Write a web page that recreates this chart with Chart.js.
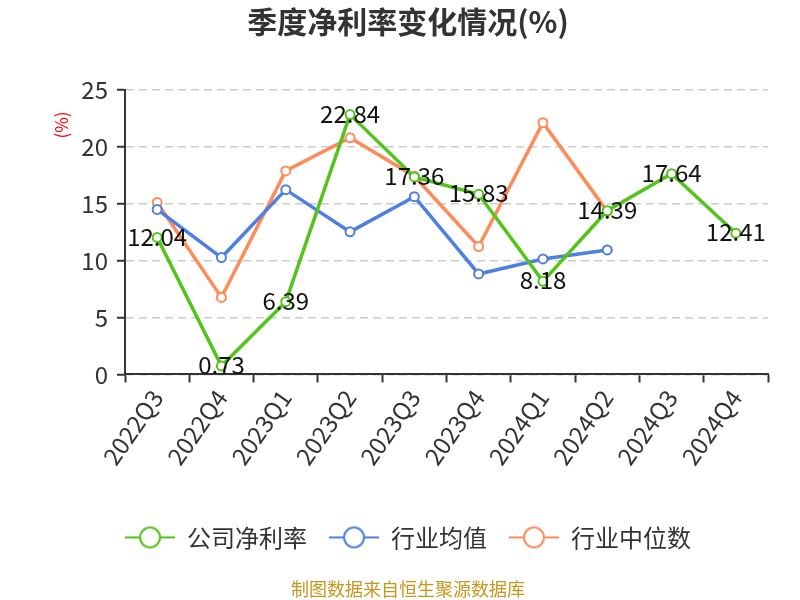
<!DOCTYPE html>
<html>
<head>
<meta charset="utf-8">
<script src="https://cdn.jsdelivr.net/npm/chart.js@4"></script>
<style>
  body { margin: 0; background: #fff; }
  #wrap { width: 800px; height: 600px; }
</style>
</head>
<body>
<div id="wrap"><canvas id="profitChart" width="800" height="600"></canvas></div>
<script>
const FONT = '"Noto Sans CJK SC", "Noto Sans", sans-serif';

// data
const quarters = ['2022Q3', '2022Q4', '2023Q1', '2023Q2', '2023Q3', '2023Q4', '2024Q1', '2024Q2', '2024Q3', '2024Q4'];
const companyRate = [12.04, 0.73, 6.39, 22.84, 17.36, 15.83, 8.18, 14.39, 17.64, 12.41];
const industryAvg = [14.5, 10.27, 16.24, 12.53, 15.62, 8.83, 10.15, 10.94, null, null];
const industryMedian = [15.12, 6.77, 17.89, 20.8, 17.42, 11.24, 22.13, 14.33, null, null];
const seriesNames = ['公司净利率', '行业均值', '行业中位数'];
const yTicks = [0, 5, 10, 15, 20, 25];

const colors = ['#52c41a', '#4e80e2', '#fe8c5a'];

// legend icon: short line with an open circle in the middle
function legendIcon(color) {
    const c = document.createElement('canvas');
    c.width = 50;
    c.height = 26;
    const g = c.getContext('2d');
    g.strokeStyle = color;
    g.lineWidth = 2;
    g.beginPath();
    g.moveTo(0, 13);
    g.lineTo(50, 13);
    g.stroke();
    g.beginPath();
    g.arc(25, 13, 10, 0, Math.PI * 2);
    g.fillStyle = '#fff';
    g.fill();
    g.stroke();
    return c;
}

// value labels on the company series
const valueLabels = {
    id: 'valueLabels',
    afterDatasetsDraw(chart) {
        const ctx = chart.ctx;
        const meta = chart.getDatasetMeta(0);
        ctx.save();
        ctx.font = '24px ' + FONT;
        ctx.fillStyle = '#111';
        ctx.textAlign = 'center';
        ctx.textBaseline = 'middle';
        meta.data.forEach((pt, i) => {
            const v = companyRate[i];
            if (v === null) return;
            ctx.fillText(v.toFixed(2), pt.x, pt.y - 1);
        });
        ctx.restore();
    }
};

// "(%)" unit text near top of y axis
const unitLabel = {
    id: 'unitLabel',
    afterDraw(chart) {
        const ctx = chart.ctx;
        const area = chart.chartArea;
        ctx.save();
        ctx.translate(62, area.top + 35);
        ctx.rotate(-Math.PI / 2);
        ctx.font = '17px ' + FONT;
        ctx.fillStyle = '#ff0000';
        ctx.textAlign = 'center';
        ctx.textBaseline = 'middle';
        ctx.fillText('(%)', 0, 0);
        ctx.restore();
    }
};

function makeDataset(label, data, color) {
    return {
        label: label,
        data: data,
        borderColor: color,
        backgroundColor: '#fff',
        borderWidth: 3.5,
        pointRadius: 4.5,
        pointBorderWidth: 2,
        pointBackgroundColor: '#fff',
        pointBorderColor: color,
        tension: 0,
        spanGaps: false
    };
}

const ctx = document.getElementById('profitChart').getContext('2d');
new Chart(ctx, {
    type: 'line',
    data: {
        labels: quarters,
        datasets: [
            makeDataset(seriesNames[0], companyRate, colors[0]),
            makeDataset(seriesNames[1], industryAvg, colors[1]),
            makeDataset(seriesNames[2], industryMedian, colors[2])
        ]
    },
    options: {
        responsive: false,
        animation: false,
        devicePixelRatio: 1,
        layout: {
            padding: { left: 48, right: 32, top: 0, bottom: 0 }
        },
        plugins: {
            title: {
                display: true,
                text: '季度净利率变化情况(%)',
                color: '#333',
                font: { family: FONT, size: 30, weight: 'bold' },
                padding: { top: 4, bottom: 50 }
            },
            subtitle: {
                display: true,
                position: 'bottom',
                text: '制图数据来自恒生聚源数据库',
                color: '#c8961e',
                font: { family: FONT, size: 18 },
                padding: { top: 19, bottom: 0 }
            },
            legend: {
                position: 'bottom',
                labels: {
                    usePointStyle: true,
                    pointStyleWidth: 50,
                    padding: 22,
                    color: '#333',
                    font: { family: FONT, size: 24 },
                    generateLabels(chart) {
                        return chart.data.datasets.map((ds, i) => ({
                            text: ds.label,
                            pointStyle: legendIcon(colors[i]),
                            fontColor: '#333',
                            strokeStyle: colors[i],
                            fillStyle: '#fff',
                            lineWidth: 0,
                            datasetIndex: i,
                            hidden: false
                        }));
                    }
                }
            },
            tooltip: { enabled: false }
        },
        scales: {
            x: {
                offset: true,
                grid: {
                    offset: true,
                    drawOnChartArea: false,
                    drawTicks: true,
                    tickLength: 8,
                    tickColor: '#333',
                    tickWidth: 2
                },
                border: { color: '#333', width: 2 },
                ticks: {
                    color: '#333',
                    font: { family: FONT, size: 24 },
                    minRotation: 55,
                    maxRotation: 55,
                    padding: 2
                },
                afterFit(scale) {
                    scale.height = 129;
                }
            },
            y: {
                min: 0,
                max: 25,
                afterBuildTicks(scale) {
                    scale.ticks = yTicks.map(v => ({ value: v }));
                },
                grid: {
                    color: '#cccccc',
                    lineWidth: 1.5,
                    tickLength: 8,
                    tickColor: '#333',
                    tickWidth: 2,
                    tickBorderDash: []
                },
                border: { color: '#333', width: 2, dash: [8, 5] },
                ticks: {
                    color: '#333',
                    font: { family: FONT, size: 24 },
                    padding: 9
                },
                afterFit(scale) {
                    scale.width = 77;
                }
            }
        }
    },
    plugins: [valueLabels, unitLabel]
});
</script>
</body>
</html>
